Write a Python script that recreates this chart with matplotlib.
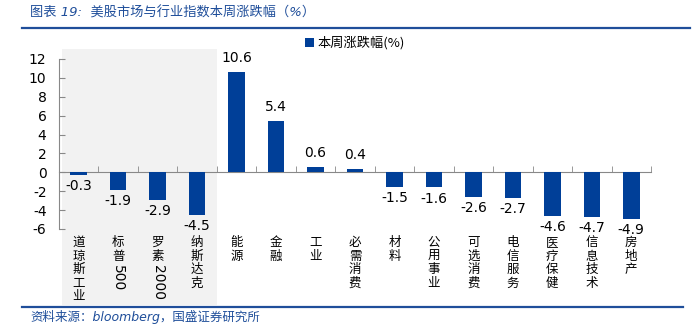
import matplotlib
matplotlib.use("Agg")
from matplotlib import pyplot as plt
from matplotlib.patches import Rectangle
from matplotlib.lines import Line2D
import re

plt.rcParams['font.family'] = ['DejaVu Sans', 'Noto Sans CJK SC']

categories = ["道琼斯工业", "标普500", "罗素2000", "纳斯达克", "能源", "金融", "工业",
              "必需消费", "材料", "公用事业", "可选消费", "电信服务", "医疗保健", "信息技术", "房地产"]
values = [-0.3, -1.9, -2.9, -4.5, 10.6, 5.4, 0.6, 0.4, -1.5, -1.6, -2.6, -2.7, -4.6, -4.7, -4.9]
series_name = "本周涨跌幅(%)"
yticks = [-6, -4, -2, 0, 2, 4, 6, 8, 10, 12]

blue = "#003f98"
title_blue = "#1f4e9a"
cjk = ['Noto Sans CJK SC', 'DejaVu Sans']
latin_first = ['DejaVu Sans', 'Noto Sans CJK SC']

fig = plt.figure(figsize=(6.95, 3.30), dpi=100)
ax = fig.add_axes([59 / 695, 1 - 229 / 330, (651 - 59) / 695, (229 - 59) / 330])
ax.set_facecolor("none")

x = range(len(categories))
bars = ax.bar(x, values, width=0.42, color=blue, label=series_name, zorder=3)

# grey band behind the index bars, running down to the source rule
band = Rectangle((-0.42, -(305 - 229) / 170), 3.92, (305 - 49) / 170,
                 transform=ax.get_xaxis_transform(),
                 facecolor="#f2f2f2", edgecolor="none", zorder=0, clip_on=False)
ax.add_patch(band)

ax.set_xlim(-0.5, len(categories) - 0.5)
ax.set_ylim(-6, 12)
ax.set_yticks(yticks)
ax.set_yticklabels([str(t) for t in yticks], fontsize=10)
ax.tick_params(axis='y', direction='in', length=4, pad=9, color="#888888")

ax.set_xticks(list(x))
ax.set_xticklabels([])
ax.tick_params(axis='x', which='major', length=0)
ax.set_xticks([i - 0.5 for i in range(len(categories) + 1)], minor=True)
ax.tick_params(axis='x', which='minor', direction='in', length=4, color="#888888")

ax.spines['bottom'].set_position(('data', 0))
ax.spines['bottom'].set_color("#888888")
ax.spines['left'].set_color("#888888")
ax.spines['top'].set_visible(False)
ax.spines['right'].set_visible(False)

# value labels
for i, v in enumerate(values):
    if v >= 0:
        ax.annotate(f"{v:.1f}", (i, v), xytext=(0, 5), textcoords='offset points',
                    ha='center', va='bottom', fontsize=10)
    else:
        ax.annotate(f"{v:.1f}", (i, v), xytext=(0, -3), textcoords='offset points',
                    ha='center', va='top', fontsize=10)

# vertical category labels: chinese characters stacked, digits rotated
for i, name in enumerate(categories):
    offset = -5.0
    for tok in re.findall(r"\d+|.", name):
        if tok.isdigit():
            ax.annotate(tok, (i, 0), xycoords=('data', 'axes fraction'),
                        xytext=(0, offset - 1), textcoords='offset points',
                        ha='center', va='top', rotation=-90, fontsize=10, family=latin_first)
            offset -= 6.6 * len(tok) + 2
        else:
            ax.annotate(tok, (i, 0), xycoords=('data', 'axes fraction'),
                        xytext=(0, offset), textcoords='offset points',
                        ha='center', va='top', fontsize=9, family=cjk)
            offset -= 9.8

ax.legend(loc='center', bbox_to_anchor=(0.5, 1 + 16 / 170), frameon=False,
          handlelength=0.7, handleheight=0.7, handletextpad=0.3,
          prop={'family': cjk, 'size': 9.5})

# title, rules and source
fig.text(30 / 695, 1 - 13 / 330, "图表 19:  美股市场与行业指数本周涨跌幅（%）", family=latin_first,
         fontsize=9.5, color=title_blue, style='italic', va='center', ha='left')
fig.add_artist(Line2D([22 / 695, 690 / 695], [1 - 28 / 330] * 2, color="#1f4e9a", lw=1.6))
fig.add_artist(Line2D([22 / 695, 683 / 695], [1 - 307 / 330] * 2, color="#1f4e9a", lw=1.6))
fig.text(30 / 695, 1 - 317 / 330, "资料来源：bloomberg，国盛证券研究所", family=latin_first,
         fontsize=9, color=title_blue, style='italic', va='center', ha='left')

fig.savefig("out.png", dpi=100)
